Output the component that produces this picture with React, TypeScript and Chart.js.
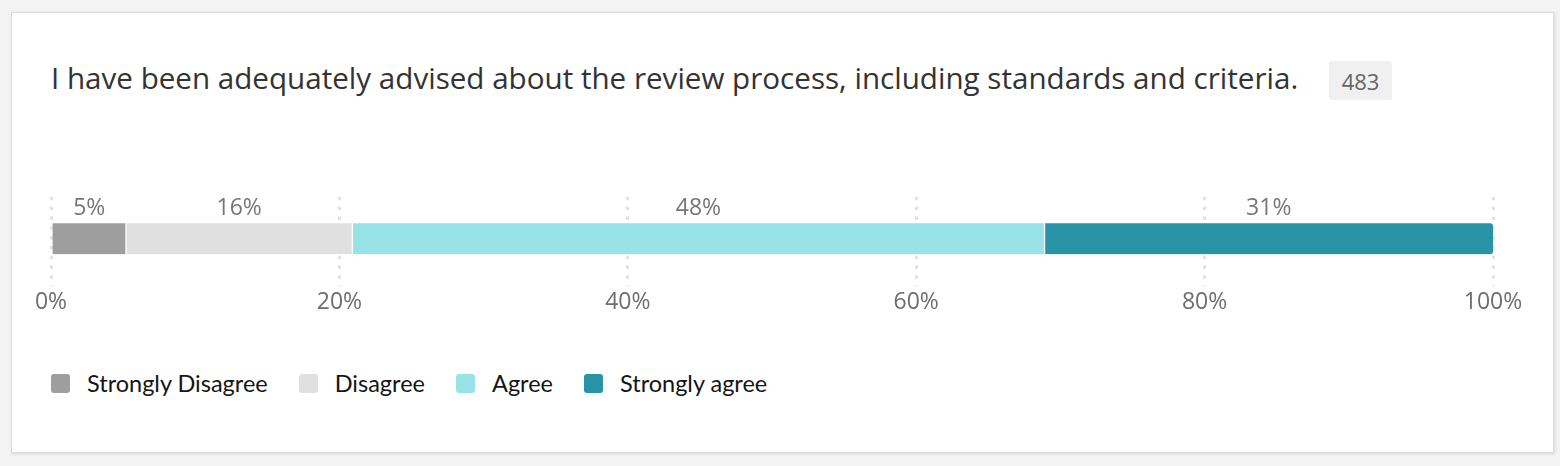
import React, { useEffect, useRef } from 'react';
import { Chart, registerables } from 'chart.js';

Chart.register(...registerables);

const titleText = 'I have been adequately advised about the review process, including standards and criteria.';
const responseCount = '483';
const categories = ['Strongly Disagree', 'Disagree', 'Agree', 'Strongly agree'];
const percentages = [5.2, 15.7, 48.0, 31.1];
const colors = ['#9e9e9e', '#e0e0e0', '#97e3e8', '#2893a5'];
const axisMin = 0;
const axisMax = 100;
const axisStep = 20;

const CHART_FONT = 'Open Sans';
const LEGEND_FONT = 'Lato';

const labelPlugin = {
  id: 'segmentLabels',
  afterDatasetsDraw(chart: any) {
    const ctx = chart.ctx;
    ctx.save();
    ctx.font = `23px "${CHART_FONT}"`;
    ctx.fillStyle = '#767676';
    ctx.textAlign = 'center';
    ctx.textBaseline = 'alphabetic';
    chart.data.datasets.forEach((ds: any, i: number) => {
      const meta = chart.getDatasetMeta(i);
      meta.data.forEach((bar: any, j: number) => {
        const p = bar.getProps(['x', 'base', 'y', 'height'], true);
        ctx.fillText(Math.round(ds.data[j]) + '%', (p.x + p.base) / 2, p.y - p.height / 2 - 8.5);
      });
    });
    ctx.restore();
  },
};

export default function App() {
  const canvasRef = useRef<HTMLCanvasElement>(null);

  useEffect(() => {
    const last = categories.length - 1;
    const chart = new Chart(canvasRef.current!, {
      type: 'bar',
      data: {
        labels: [''],
        datasets: categories.map((c, i) => ({
          label: c,
          data: [percentages[i]],
          backgroundColor: colors[i],
          borderColor: '#ffffff',
          borderWidth: { left: i > 0 ? 1 : 0, right: i < last ? 1 : 0, top: 0, bottom: 0 },
          borderSkipped: false,
          borderRadius: i === last ? { topLeft: 0, bottomLeft: 0, topRight: 3, bottomRight: 3 } : 0,
          barThickness: 31,
        })),
      },
      options: {
        indexAxis: 'y',
        responsive: true,
        maintainAspectRatio: false,
        animation: false,
        layout: { padding: { left: 51, right: 67, top: 11, bottom: 2 } },
        scales: {
          x: {
            stacked: true,
            min: axisMin,
            max: axisMax,
            ticks: {
              stepSize: axisStep,
              callback: (v: any) => v + '%',
              color: '#6e6e6e',
              font: { family: CHART_FONT, size: 23 },
              padding: 2,
            },
            grid: { color: '#e2e2e2', lineWidth: 3, drawTicks: false },
            border: { display: false, dash: [3.3, 6.5], dashOffset: 3.8 },
          },
          y: { stacked: true, display: false },
        },
        plugins: { legend: { display: false }, tooltip: { enabled: false } },
      },
      plugins: [labelPlugin],
    } as any);
    return () => chart.destroy();
  }, []);

  return (
    <div style={{ position: 'fixed', inset: 0, background: '#f3f3f3', fontFamily: CHART_FONT }}>
      <div
        style={{
          position: 'absolute',
          left: 11,
          top: 12,
          width: 1543,
          height: 441,
          boxSizing: 'border-box',
          background: '#ffffff',
          border: '1px solid #dcdcdc',
          boxShadow: '1px 1px 3px rgba(0,0,0,0.12)',
        }}
      />
      <div
        style={{
          position: 'absolute',
          left: 51,
          top: 63,
          fontSize: 29.6,
          lineHeight: 1,
          color: '#333333',
          whiteSpace: 'nowrap',
          fontFamily: CHART_FONT,
        }}
      >
        {titleText}
      </div>
      <div
        style={{
          position: 'absolute',
          left: 1329,
          top: 61,
          width: 63,
          height: 39,
          background: '#f0f0f0',
          borderRadius: 3,
          color: '#666666',
          fontSize: 22,
          display: 'flex',
          alignItems: 'center',
          justifyContent: 'center',
          fontFamily: CHART_FONT,
        }}
      >
        {responseCount}
      </div>
      <div style={{ position: 'absolute', left: 0, top: 180, width: 1560, height: 140 }}>
        <canvas ref={canvasRef} />
      </div>
      <div style={{ position: 'absolute', left: 51, top: 372, height: 22, display: 'flex', alignItems: 'center' }}>
        {categories.map((c, i) => (
          <div key={c} style={{ display: 'flex', alignItems: 'center', marginRight: 31 }}>
            <div style={{ width: 19, height: 19, borderRadius: 3, background: colors[i], marginRight: 17 }} />
            <span style={{ fontSize: 23.5, color: '#151515', whiteSpace: 'nowrap', fontFamily: LEGEND_FONT }}>{c}</span>
          </div>
        ))}
      </div>
    </div>
  );
}
